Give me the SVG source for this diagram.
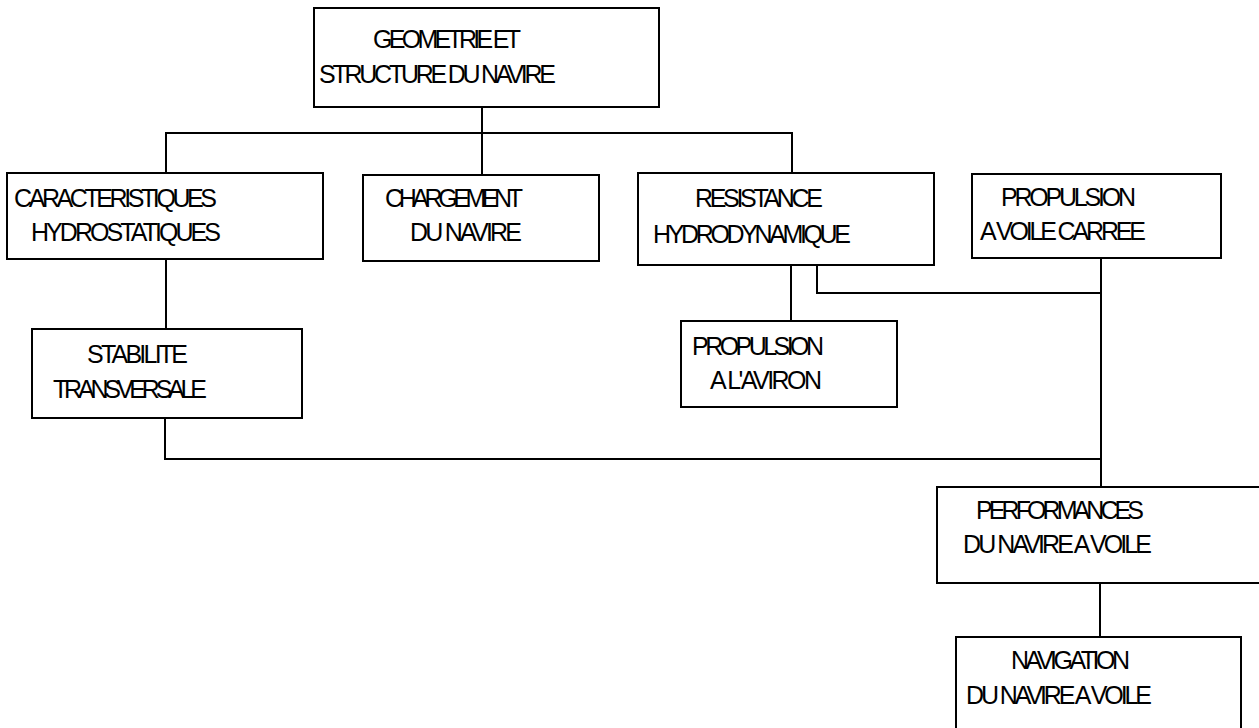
<svg xmlns="http://www.w3.org/2000/svg" width="1259" height="728" viewBox="0 0 1259 728">
  <style>
    .box { fill: #ffffff; stroke: #000000; stroke-width: 2; }
    .wire { fill: none; stroke: #000000; stroke-width: 2; }
    .lbl { font-family: "Liberation Sans", Arial, sans-serif; font-size: 25px; fill: #000000; }
  </style>
  <rect width="1259" height="728" fill="#ffffff"/>

  <!-- connectors -->
  <g id="connectors">
    <path class="wire" d="M482,107 V175"/>
    <path class="wire" d="M166,173 V133 H792 V173"/>
    <path class="wire" d="M166,259 V329"/>
    <path class="wire" d="M791,265 V321"/>
    <path class="wire" d="M817,265 V293 H1102"/>
    <path class="wire" d="M1101,258 V487"/>
    <path class="wire" d="M165,418 V459 H1102"/>
    <path class="wire" d="M1100,583 V637"/>
  </g>

  <g id="geometrie">
    <rect class="box" x="314" y="8" width="345" height="99"/>
    <text class="lbl" x="373" y="48" textLength="148" lengthAdjust="spacing">GEOMETRIE ET</text>
    <text class="lbl" x="319" y="83" textLength="237" lengthAdjust="spacing">STRUCTURE DU NAVIRE</text>
  </g>

  <g id="caracteristiques">
    <rect class="box" x="7" y="173" width="316" height="86"/>
    <text class="lbl" x="14" y="207" textLength="203" lengthAdjust="spacing">CARACTERISTIQUES</text>
    <text class="lbl" x="31" y="241" textLength="190" lengthAdjust="spacing">HYDROSTATIQUES</text>
  </g>

  <g id="chargement">
    <rect class="box" x="363" y="175" width="236" height="86"/>
    <text class="lbl" x="385" y="207" textLength="138" lengthAdjust="spacing">CHARGEMENT</text>
    <text class="lbl" x="410" y="241" textLength="112" lengthAdjust="spacing">DU NAVIRE</text>
  </g>

  <g id="resistance">
    <rect class="box" x="638" y="173" width="296" height="92"/>
    <text class="lbl" x="695" y="207" textLength="128" lengthAdjust="spacing">RESISTANCE</text>
    <text class="lbl" x="653" y="243" textLength="198" lengthAdjust="spacing">HYDRODYNAMIQUE</text>
  </g>

  <g id="voile-carree">
    <rect class="box" x="972" y="174" width="249" height="84"/>
    <text class="lbl" x="1001" y="206" textLength="135" lengthAdjust="spacing">PROPULSION</text>
    <text class="lbl" x="980" y="240" textLength="166" lengthAdjust="spacing">A VOILE CARREE</text>
  </g>

  <g id="stabilite">
    <rect class="box" x="32" y="329" width="270" height="89"/>
    <text class="lbl" x="87" y="363" textLength="101" lengthAdjust="spacing">STABILITE</text>
    <text class="lbl" x="53" y="398" textLength="154" lengthAdjust="spacing">TRANSVERSALE</text>
  </g>

  <g id="aviron">
    <rect class="box" x="681" y="321" width="216" height="86"/>
    <text class="lbl" x="692" y="355" textLength="132" lengthAdjust="spacing">PROPULSION</text>
    <text class="lbl" x="710" y="389" textLength="112" lengthAdjust="spacing">A L'AVIRON</text>
  </g>

  <g id="performances">
    <rect class="box" x="937" y="487" width="340" height="96"/>
    <text class="lbl" x="976" y="519" textLength="168" lengthAdjust="spacing">PERFORMANCES</text>
    <text class="lbl" x="963" y="553" textLength="189" lengthAdjust="spacing">DU NAVIRE A VOILE</text>
  </g>

  <g id="navigation">
    <rect class="box" x="956" y="637" width="285" height="100"/>
    <text class="lbl" x="1011" y="669" textLength="119" lengthAdjust="spacing">NAVIGATION</text>
    <text class="lbl" x="966" y="704" textLength="186" lengthAdjust="spacing">DU NAVIRE A VOILE</text>
  </g>
</svg>
